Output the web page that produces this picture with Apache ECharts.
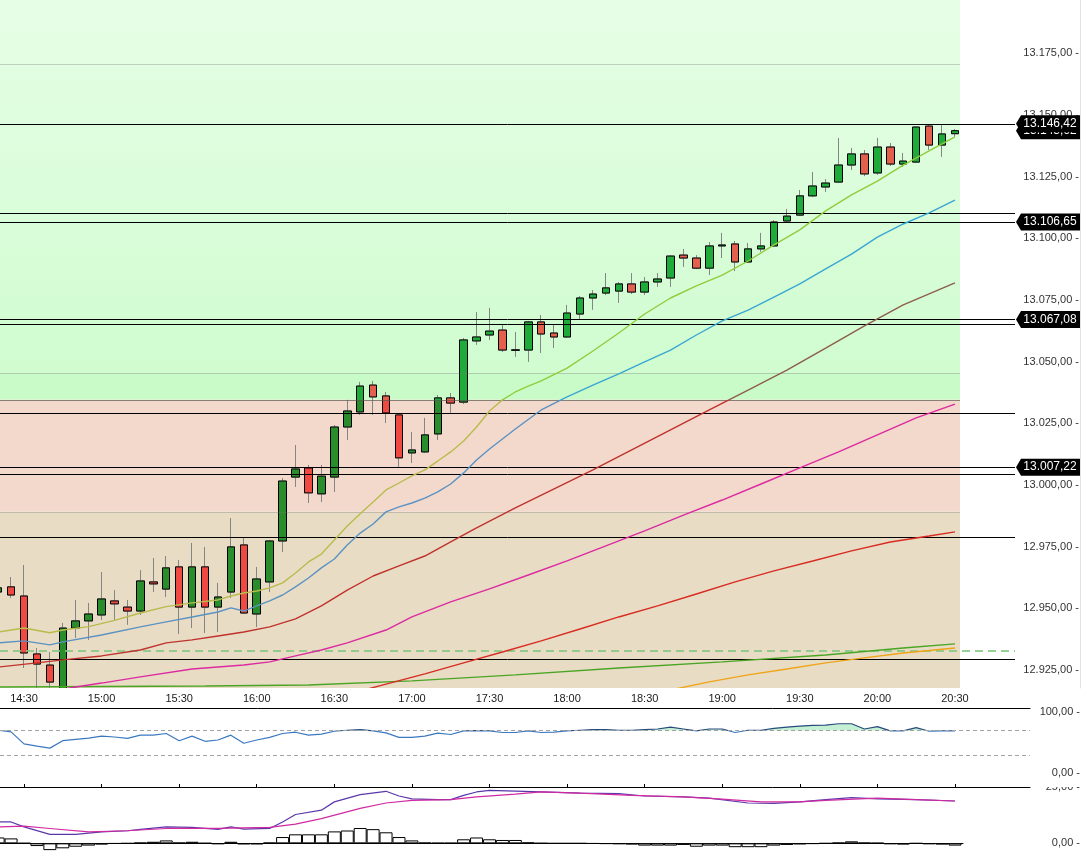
<!DOCTYPE html>
<html><head><meta charset="utf-8">
<script src="https://cdn.jsdelivr.net/npm/echarts@6/dist/echarts.min.js"></script>
<style>html,body{margin:0;padding:0;background:#fff;}#c{width:1087px;height:858px;}</style>
</head><body><div id="c"></div>
<script>
// ---------- DATA ----------
const times = ['14:20','14:25','14:30','14:35','14:40','14:45','14:50','14:55',
 '15:00','15:05','15:10','15:15','15:20','15:25','15:30','15:35','15:40','15:45','15:50','15:55',
 '16:00','16:05','16:10','16:15','16:20','16:25','16:30','16:35','16:40','16:45','16:50','16:55',
 '17:00','17:05','17:10','17:15','17:20','17:25','17:30','17:35','17:40','17:45','17:50','17:55',
 '18:00','18:05','18:10','18:15','18:20','18:25','18:30','18:35','18:40','18:45','18:50','18:55',
 '19:00','19:05','19:10','19:15','19:20','19:25','19:30','19:35','19:40','19:45','19:50','19:55',
 '20:00','20:05','20:10','20:15','20:20','20:25','20:30'];
const timeTicks = ['14:30','15:00','15:30','16:00','16:30','17:00','17:30','18:00','18:30','19:00','19:30','20:00','20:30'];
const priceTicks = [12925,12950,12975,13000,13025,13050,13075,13100,13125,13150,13175];

const open = [12956.6,12958.7,12955.0,12931.5,12927.0,12916.5,12942.0,12944.9,12947.3,12953.0,
 12950.5,12948.9,12960.7,12957.8,12966.8,12950.5,12966.8,12950.5,12956.6,12975.7,
 12947.7,12960.7,12977.3,13003.2,13006.9,12996.4,13003.2,13023.5,13029.6,13040.5,
 13036.1,13028.4,13013.0,13013.4,13020.7,13035.3,13033.6,13058.4,13060.8,13062.8,
 13054.6,13054.7,13066.1,13061.6,13060.0,13069.3,13075.8,13077.8,13078.6,13081.5,
 13078.2,13082.3,13083.9,13093.2,13092.0,13087.9,13096.9,13097.7,13090.4,13095.7,
 13096.9,13107.0,13109.4,13117.2,13120.8,13122.8,13129.7,13134.2,13126.5,13137.0,
 13130.1,13130.9,13145.5,13137.8,13142.4];
const high = [12960.0,12962.7,12967.6,12933.9,12932.3,12944.1,12953.4,12952.2,12964.7,12957.4,
 12953.4,12965.5,12970.4,12971.2,12969.6,12976.5,12974.9,12960.3,12986.6,12978.5,
 12966.8,12977.7,13002.8,13016.2,13008.1,13008.1,13024.3,13034.5,13041.8,13042.2,
 13037.7,13029.2,13021.5,13027.2,13036.5,13037.3,13059.6,13070.1,13071.8,13064.9,
 13062.0,13066.5,13068.9,13064.9,13073.0,13076.6,13079.0,13085.9,13082.3,13085.9,
 13084.3,13085.9,13093.2,13095.7,13093.2,13098.5,13102.2,13098.9,13098.1,13102.2,
 13107.4,13111.9,13119.6,13126.9,13124.0,13140.7,13136.6,13135.8,13140.7,13138.6,
 13134.6,13145.5,13146.3,13146.3,13144.3];
const low = [12955.0,12954.2,12925.8,12914.9,12912.9,12912.9,12938.0,12937.2,12945.3,12945.3,
 12943.3,12947.3,12956.6,12954.6,12939.6,12942.0,12940.0,12940.4,12954.2,12947.7,
 12942.4,12956.6,12972.8,12999.2,12992.7,12993.1,12997.2,13018.2,13028.4,13028.4,
 13025.1,13007.3,13008.9,13013.0,13018.2,13029.2,13032.8,13056.8,13058.8,13053.9,
 13051.9,13049.9,13053.5,13055.5,13059.6,13066.9,13071.0,13077.0,13073.8,13077.4,
 13077.0,13080.3,13080.3,13088.4,13087.5,13085.1,13092.0,13086.7,13090.0,13094.5,
 13096.5,13106.2,13109.0,13116.7,13118.8,13122.4,13127.7,13125.2,13125.7,13129.3,
 13128.9,13130.5,13135.8,13133.0,13141.1];
const close = [12958.3,12955.4,12931.9,12927.4,12920.1,12942.0,12944.9,12947.7,12953.8,12951.8,
 12948.9,12961.1,12959.9,12966.4,12950.5,12966.8,12950.5,12954.6,12974.9,12948.1,
 12961.9,12977.3,13001.6,13006.5,12996.8,13003.6,13023.5,13030.0,13040.1,13035.7,
 13029.2,13011.0,13014.2,13020.3,13035.3,13033.2,13058.8,13060.0,13062.4,13054.7,
 13054.8,13066.1,13061.2,13060.0,13069.7,13075.8,13077.4,13079.9,13081.5,13078.2,
 13082.3,13083.5,13092.8,13092.0,13087.9,13096.9,13097.3,13090.4,13095.7,13096.9,
 13106.6,13109.0,13117.2,13121.2,13122.4,13129.7,13134.2,13126.1,13137.0,13130.1,
 13131.3,13145.1,13137.8,13142.3,13143.62];

// moving averages, read at sample times
const maFast = [['14:20',12940.4],['14:30',12942.0],['14:40',12940.1],['14:45',12941.2],['14:55',12942.6],['15:05',12945.1],
 ['15:15',12948.1],['15:25',12950.7],['15:35',12952.2],['15:45',12953.4],['15:50',12955.0],['15:55',12956.2],['16:00',12957.0],
 ['16:05',12958.3],['16:10',12960.3],['16:15',12964.3],['16:20',12968.8],['16:25',12972.0],['16:30',12977.7],['16:35',12983.4],
 ['16:40',12988.3],['16:45',12993.1],['16:50',12998.0],['16:55',13000.8],['17:00',13003.7],['17:05',13006.1],['17:10',13009.7],
 ['17:15',13013.4],['17:20',13017.8],['17:25',13023.5],['17:30',13030.0],['17:35',13034.5],['17:40',13037.7],['17:45',13040.1],
 ['17:50',13042.2],['18:00',13047.4],['18:10',13054.3],['18:20',13061.6],['18:30',13069.3],['18:40',13075.8],['18:50',13080.7],
 ['19:00',13085.1],['19:10',13090.8],['19:20',13097.3],['19:30',13103.4],['19:40',13111.1],['19:50',13117.6],['20:00',13123.2],
 ['20:10',13129.7],['20:20',13135.4],['20:30',13141.1]];
const maBlue = [['14:20',12936.0],['14:30',12936.8],['14:40',12935.2],['14:45',12936.4],['15:00',12939.2],['15:15',12942.5],
 ['15:25',12944.5],['15:35',12946.5],['15:45',12948.5],['15:50',12950.2],['15:55',12948.9],['16:00',12951.0],['16:05',12953.0],
 ['16:10',12955.4],['16:15',12958.7],['16:20',12962.3],['16:25',12966.4],['16:30',12970.0],['16:35',12975.7],['16:40',12980.5],
 ['16:45',12984.2],['16:50',12989.1],['16:55',12991.1],['17:00',12992.7],['17:05',12994.7],['17:10',12997.2],['17:15',13000.4],
 ['17:20',13004.9],['17:25',13010.1],['17:30',13014.6],['17:40',13022.7],['17:50',13030.4],['18:00',13035.7],['18:10',13040.5],
 ['18:20',13045.0],['18:30',13049.9],['18:40',13054.7],['18:50',13060.8],['19:00',13066.5],['19:10',13070.9],['19:20',13076.2],
 ['19:30',13081.5],['19:40',13087.6],['19:50',13093.6],['20:00',13100.5],['20:10',13105.8],['20:20',13110.3],['20:30',13115.5]];
const maRed = [['14:20',12926.2],['14:35',12927.9],['14:45',12929.1],['15:00',12930.7],['15:15',12933.1],['15:25',12936.0],
 ['15:35',12937.2],['15:45',12938.8],['15:55',12940.4],['16:05',12942.5],['16:15',12945.7],['16:25',12951.0],['16:35',12957.4],
 ['16:45',12963.1],['16:55',12967.2],['17:05',12971.2],['17:15',12976.9],['17:25',12982.6],['17:40',12990.7],['17:55',12998.4],
 ['18:10',13006.1],['18:25',13014.2],['18:40',13022.3],['18:55',13030.4],['19:10',13038.5],['19:25',13046.6],['19:40',13055.5],
 ['19:55',13064.5],['20:10',13073.0],['20:30',13081.9]];
const maMagenta = [['14:35',12915.3],['14:50',12918.1],['15:00',12919.7],['15:15',12922.2],['15:35',12925.4],['15:55',12927.0],
 ['16:05',12928.3],['16:15',12930.7],['16:25',12933.1],['16:35',12936.0],['16:50',12941.2],['17:00',12946.5],['17:15',12952.6],
 ['17:30',12957.9],['17:45',12963.5],['18:00',12969.2],['18:15',12975.3],['18:30',12981.4],['18:45',12987.8],['19:00',12993.9],
 ['19:15',13000.4],['19:30',13006.9],['19:45',13013.4],['20:00',13020.3],['20:15',13027.2],['20:30',13032.8]];
const maRed2 = [['16:40',12916.5],['16:50',12919.3],['17:05',12923.4],['17:20',12927.9],['17:35',12932.3],['17:50',12936.8],
 ['18:05',12941.6],['18:20',12946.5],['18:35',12951.0],['18:50',12955.8],['19:05',12960.7],['19:20',12965.2],['19:35',12969.2],
 ['19:50',12973.3],['20:05',12976.9],['20:20',12979.3],['20:30',12981.0]];
const maGreen = [['14:20',12918.1],['15:00',12918.3],['15:40',12918.5],['16:20',12918.9],['17:00',12920.6],['17:40',12923.0],
 ['18:20',12925.8],['19:00',12928.3],['19:40',12931.1],['20:10',12933.9],['20:30',12935.6]];
const maOrange = [['18:40',12916.9],['18:55',12920.2],['19:10',12923.0],['19:25',12925.4],['19:40',12927.9],['19:55',12929.9],
 ['20:10',12931.9],['20:30',12933.9]];

// horizontal levels
const levels = [13146.42,13110.1,13106.65,13067.08,13065.2,13029.1,13007.22,13004.5,12979.0,12929.3];
const taggedLevels = [13106.65,13067.08,13007.22,13146.42];
const lastPrice = 13143.62;
const dashedLevel = 12932.8;
const zoneLines = [13170.7,13045.4,12989.1];
const zoneEdge = 13034.5;
const priceMin = 12917.7, priceMax = 13196.6;

// RSI
const rsi = [70.5,67.8,48.1,44.5,41.2,53.4,55.6,57.7,60.9,59.5,
 57.2,62.5,62.5,65.2,53.4,60.9,52.4,54.5,62.5,49.2,
 54.5,58.8,65.2,67.3,62.5,64.1,68.9,70.5,71.6,69.4,
 66.2,58.8,58.8,60.9,65.7,63.6,69.4,69.8,69.4,66.8,
 66.8,69.4,66.8,67.3,69.4,70.5,71.6,71.6,70.5,70.5,
 71.6,72.6,75.8,72.6,69.4,72.6,72.6,66.8,70.5,70.5,
 73.7,75.8,77.4,78.5,79.0,81.2,81.2,72.6,76.4,69.4,
 69.4,74.8,68.9,69.4,69.4];
const rsiLevels = [70,30];

// MACD-like panel
const macdLine = [['14:20',9.5],['14:25',9.5],['14:30',7.3],['14:40',4.0],['14:50',4.0],['15:00',5.1],['15:10',5.6],['15:15',6.2],
 ['15:25',7.3],['15:35',7.1],['15:45',6.2],['15:50',7.3],['15:55',6.3],['16:05',6.6],['16:10',9.5],['16:15',12.8],['16:25',14.7],
 ['16:30',18.4],['16:40',21.6],['16:50',23.1],['16:55',21.0],['17:00',19.7],['17:10',19.4],['17:15',19.4],['17:20',21.3],['17:25',22.8],
 ['17:30',23.5],['17:50',22.8],['18:05',22.3],['18:20',22.1],['18:30',21.0],['18:45',20.6],['18:55',20.1],['19:10',17.9],['19:20',17.7],
 ['19:30',18.4],['19:40',19.4],['19:50',20.3],['20:00',19.7],['20:15',19.4],['20:30',18.8]];
const signalLine = [['14:20',7.3],['14:30',7.6],['14:40',6.6],['14:55',5.1],['15:10',5.6],['15:25',6.6],['15:45',6.6],['16:05',7.1],
 ['16:15',8.5],['16:25',11.0],['16:40',15.5],['16:50',17.9],['17:00',19.1],['17:15',19.4],['17:25',20.6],['17:40',21.8],['17:50',22.8],
 ['18:05',22.3],['18:25',21.3],['18:45',20.6],['19:00',19.6],['19:15',18.4],['19:30',18.4],['19:40',19.1],['20:00',20.1],['20:15',19.4],
 ['20:30',18.8]];
const hist = [2.6,2.2,0.1,-1.2,-3.0,-2.2,-1.5,-1.0,-0.5,-0.1,
 0.0,0.3,0.7,1.3,0.3,0.7,0.1,-0.3,0.7,-0.4,
 -0.4,0.3,2.8,4.0,4.0,4.0,5.3,5.7,6.8,6.3,
 4.9,2.8,1.3,0.3,0.2,0.2,1.8,2.6,1.8,1.5,
 1.5,0.4,0.1,0.0,0.0,0.0,-0.1,-0.2,-0.3,-0.5,
 -1.0,-1.0,-1.0,-0.7,-1.5,-1.0,-1.0,-1.7,-1.7,-1.7,
 -1.0,-0.7,-0.4,-0.2,0.0,0.3,0.9,0.3,0.2,-0.3,
 -0.5,0.0,-0.3,-0.5,-1.0];

// ---------- BUILD ----------
const idx = t => times.indexOf(t);
const pairs = arr => arr.map(p => [idx(p[0]), p[1]]);
function fmt(v){ const s = Number(v).toFixed(2).split('.'); return s[0].replace(/\B(?=(\d{3})+(?!\d))/g,'.') + ',' + s[1]; }

const PX = 12.93;             // px per candle (layout)
const X0 = 2 - 24 / PX;       // axis value at left edge
const xAt = w => X0 + w / PX;
const tickIdx = timeTicks.map(idx);
const FONT = 'Liberation Sans, Arial, sans-serif';
const RSI_MIN = -22.5, RSI_MAX = 107, RSI_TOP = 708, RSI_H = 79;

function splitGrad(y, total, a, b){
  const o = y / total;
  return new echarts.graphic.LinearGradient(0,0,0,total,[
    {offset:0,color:a},{offset:o,color:a},{offset:o,color:b},{offset:1,color:b}], true);
}
const zoneGrad = (a,b) => splitGrad(400, 688, a, b);
const rsiSplitY = RSI_TOP + (RSI_MAX - 70) / (RSI_MAX - RSI_MIN) * RSI_H;

const chart = echarts.init(document.getElementById('c'), null, {renderer:'canvas'});
const hiddenX = (min,max,gi) => ({type:'value', gridIndex:gi, min, max, show:false});
const maSeries = (data, color, w) => ({
  type:'line', xAxisIndex:0, yAxisIndex:0, data: pairs(data), showSymbol:false, symbol:'none',
  smooth:false, silent:true, z:5,
  lineStyle:{color, width:w||1.4}
});
const tagSeries = (vals, z) => ({
  type:'scatter', xAxisIndex:2, yAxisIndex:2, z, silent:true, clip:false,
  data: vals.map(v=>[0,v]),
  symbol:'path://M0,8L5,0L64,0L64,16L5,16Z', symbolSize:[64,17], symbolKeepAspect:false, symbolOffset:[33,0],
  itemStyle:{color:'#000', opacity:1},
  label:{show:true, position:'inside', offset:[2,0], formatter:p=>fmt(p.value[1]), color:'#fff', fontSize:12, fontFamily:FONT}
});

chart.setOption({
  animation:false,
  textStyle:{fontFamily:FONT},
  grid:[
    {left:0, top:0, width:960, height:688},
    {left:0, top:0, width:1015, height:688},
    {left:1015, top:0, width:65, height:688},
    {left:0, top:RSI_TOP, width:1030, height:RSI_H},
    {left:0, top:787, width:963, height:63}
  ],
  xAxis:[
    {type:'value', gridIndex:0, min:X0, max:xAt(960), z:10,
     axisLine:{show:false}, axisTick:{show:false}, splitLine:{show:false},
     axisLabel:{customValues:tickIdx, formatter:v=>times[Math.round(v)], margin:5, fontSize:11, color:'#1a1a1a'}},
    hiddenX(X0, xAt(1015), 1),
    hiddenX(0, 1, 2),
    {type:'value', gridIndex:3, min:X0, max:xAt(1030),
     axisLine:{onZero:false, lineStyle:{color:'#000', width:1}},
     axisTick:{customValues:tickIdx, inside:true, length:3, lineStyle:{color:'#000'}},
     axisLabel:{show:false}, splitLine:{show:false}},
    {type:'value', gridIndex:3, position:'top', min:X0, max:xAt(1030),
     axisLine:{onZero:false, lineStyle:{color:'#000', width:1}},
     axisTick:{show:false}, axisLabel:{show:false}, splitLine:{show:false}},
    {type:'value', gridIndex:4, min:X0, max:xAt(963),
     axisLine:{onZero:true, lineStyle:{color:'#000', width:1}},
     axisTick:{show:false}, axisLabel:{show:false}, splitLine:{show:false}}
  ],
  yAxis:[
    {type:'value', gridIndex:0, min:priceMin, max:priceMax, show:false},
    {type:'value', gridIndex:1, min:priceMin, max:priceMax, show:false},
    {type:'value', gridIndex:2, min:priceMin, max:priceMax, position:'right',
     axisLine:{show:true, onZero:false, lineStyle:{color:'#e2e2e2'}}, axisTick:{show:false}, splitLine:{show:false},
     axisLabel:{inside:true, customValues:priceTicks, formatter:v=>fmt(v)+' -', margin:1, fontSize:11, color:'#333'}},
    {type:'value', gridIndex:3, min:RSI_MIN, max:RSI_MAX, position:'right',
     axisLine:{show:false}, axisTick:{show:false}, splitLine:{show:false},
     axisLabel:{customValues:[0,100], formatter:v=>fmt(v)+' -', align:'right', margin:50, fontSize:11, color:'#333'}},
    {type:'value', gridIndex:4, min:-2.95, max:25, position:'right',
     axisLine:{show:false}, axisTick:{show:false}, splitLine:{show:false},
     axisLabel:{customValues:[0,25], formatter:v=>fmt(v)+' -', align:'right', margin:117, fontSize:11, color:'#333'}}
  ],
  series:[
    // background zones
    {type:'line', xAxisIndex:0, yAxisIndex:0, data:close.map((c,i)=>[i,c]), symbol:'none', silent:true, z:1,
     lineStyle:{opacity:0},
     markArea:{silent:true, label:{show:false}, data:[
       [{yAxis:zoneLines[1], itemStyle:{color:new echarts.graphic.LinearGradient(0,0,0,1,[{offset:0,color:'#e6fee6'},{offset:1,color:'#d0fcd0'}])}},{yAxis:priceMax}],
       [{yAxis:zoneEdge, itemStyle:{color:'#c9fbc9'}},{yAxis:zoneLines[1]}],
       [{yAxis:zoneLines[2], itemStyle:{color:'#f3d8cc'}},{yAxis:zoneEdge}],
       [{yAxis:priceMin, itemStyle:{color:'#e8dcc5'}},{yAxis:zoneLines[2]}]
     ]},
     markLine:{silent:true, symbol:['none','none'], label:{show:false},
       data: zoneLines.map(v=>({yAxis:v, lineStyle:{color:'rgba(120,120,120,0.35)', width:1, type:'solid'}}))
         .concat([{yAxis:zoneEdge, lineStyle:{color:'rgba(90,90,80,0.7)', width:1, type:'solid'}}])}
    },
    // level lines
    {type:'line', xAxisIndex:1, yAxisIndex:1, data:close.map((c,i)=>[i,c]), symbol:'none', silent:true, z:2,
     lineStyle:{opacity:0},
     markLine:{silent:true, symbol:['none','none'], label:{show:false},
       data: levels.map(v=>({yAxis:v, lineStyle:{color:'#000', width:1, type:'solid'}}))
         .concat([{yAxis:dashedLevel, lineStyle:{color:'rgba(130,200,130,0.85)', width:2, type:[8,5]}}])}
    },
    // wicks
    {type:'candlestick', xAxisIndex:0, yAxisIndex:0, barWidth:8, z:3, silent:true,
     encode:{x:0, y:[1,2,3,4]},
     data: times.map((t,i)=>[i, open[i], close[i], low[i], high[i]]),
     itemStyle:{color:'rgba(0,0,0,0)', color0:'rgba(0,0,0,0)', borderColor:'#858585', borderColor0:'#858585', borderWidth:1}},
    // bodies
    {type:'candlestick', xAxisIndex:0, yAxisIndex:0, barWidth:8, z:4, silent:true,
     encode:{x:0, y:[1,2,3,4]},
     data: times.map((t,i)=>[i, open[i], close[i], Math.min(open[i],close[i]), Math.max(open[i],close[i])]),
     itemStyle:{color:zoneGrad('#1fab3a','#2a8d2c'), color0:zoneGrad('#e2604c','#ee4a42'),
       borderColor:'#000', borderColor0:'#000', borderWidth:1}},
    // moving averages
    maSeries(maGreen, '#4aa524'),
    maSeries(maOrange, '#f0a418'),
    maSeries(maRed2, '#d82c22'),
    maSeries(maMagenta, '#dc2aa0'),
    maSeries(maRed, zoneGrad('#8c5e4a','#c0322c')),
    maSeries(maBlue, zoneGrad('#3aa6d2','#5b92c2')),
    maSeries(maFast, zoneGrad('#90cc3c','#b8bc4c')),
    // price tags (last price under the level tags)
    tagSeries([lastPrice], 6),
    tagSeries(taggedLevels, 7),
    // RSI fill above 70
    {type:'line', xAxisIndex:3, yAxisIndex:3, z:2, silent:true, symbol:'none',
     data: rsi.map((v,i)=>[i, Math.max(v,70)]), lineStyle:{opacity:0},
     areaStyle:{origin:70, color:'rgba(120,220,150,0.6)'}},
    // RSI line
    {type:'line', xAxisIndex:3, yAxisIndex:3, z:3, silent:true, symbol:'none',
     data: rsi.map((v,i)=>[i,v]),
     lineStyle:{width:1.2, color: splitGrad(rsiSplitY, 858, '#264a7c', '#3a78c0')},
     markLine:{silent:true, symbol:['none','none'], label:{show:false},
       data: rsiLevels.map(v=>({yAxis:v})), lineStyle:{color:'#a2a2a2', width:1, type:[4,3]}}},
    // histogram
    {type:'bar', xAxisIndex:5, yAxisIndex:4, z:2, silent:true, barWidth:13,
     data: hist.map((v,i)=>[i,v]), itemStyle:{color:'#fff', borderColor:'#000', borderWidth:1}},
    // MACD lines
    {type:'line', xAxisIndex:5, yAxisIndex:4, z:3, silent:true, symbol:'none',
     data: pairs(macdLine), lineStyle:{color:'#5b38aa', width:1.2}},
    {type:'line', xAxisIndex:5, yAxisIndex:4, z:3, silent:true, symbol:'none',
     data: pairs(signalLine), lineStyle:{color:'#d02aa0', width:1.2}}
  ],
  graphic:[
    {type:'rect', left:0, top:688, shape:{width:1015, height:19.5}, style:{fill:'#fff'}, z:9, silent:true},
    {type:'rect', left:1034, top:780, shape:{width:53, height:7}, style:{fill:'#fff'}, z:100, silent:true}
  ]
});
</script>
</body></html>
